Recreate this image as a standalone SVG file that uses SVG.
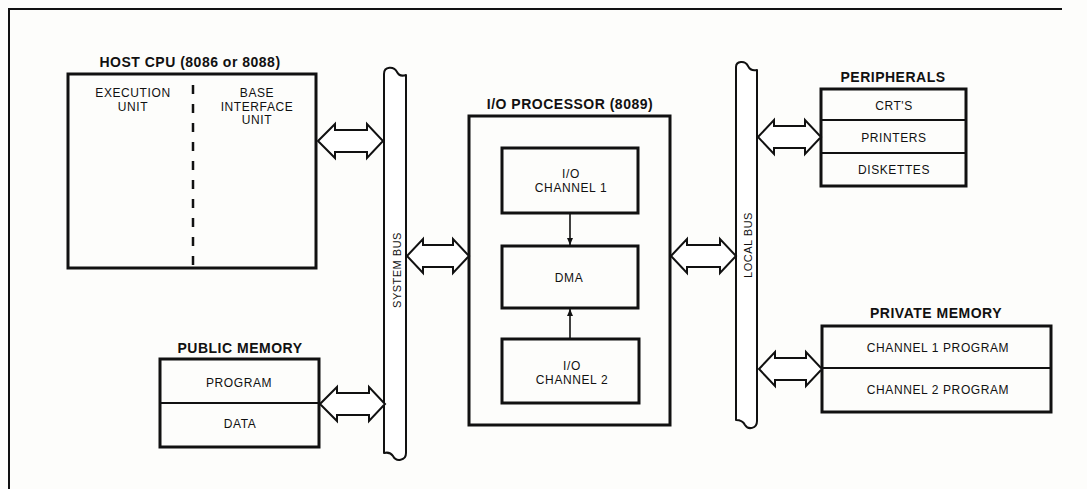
<svg xmlns="http://www.w3.org/2000/svg" width="1087" height="489" viewBox="0 0 1087 489">
<style>
.bg{fill:#fdfdfb}
.frame{fill:none;stroke:#111;stroke-width:2}
.box{fill:none;stroke:#111;stroke-width:3}
.div{stroke:#111;stroke-width:2}
.bus{fill:#fff;stroke:#111;stroke-width:2;stroke-linejoin:round}
.dbl{fill:#fff;stroke:#111;stroke-width:2;stroke-linejoin:miter}
.ln{stroke:#111;stroke-width:1.6}
.title{font-family:"Liberation Sans",Arial,sans-serif;font-weight:bold;font-size:14px;letter-spacing:0.5px;fill:#111;text-anchor:middle}
.lbl{font-family:"Liberation Sans",Arial,sans-serif;font-size:12px;letter-spacing:0.6px;fill:#111;text-anchor:middle}
.buslbl{font-family:"Liberation Sans",Arial,sans-serif;font-size:11px;letter-spacing:0.5px;fill:#111;text-anchor:middle}
</style>
<defs>
<marker id="ah" markerWidth="8" markerHeight="8" refX="7" refY="4" orient="auto" markerUnits="userSpaceOnUse">
<path d="M0,1 L7,4 L0,7 Z" fill="#111"/>
</marker>
</defs>
<rect class="bg" x="0" y="0" width="1087" height="489"/>
<path class="frame" d="M9,489 L9,9 L1062,9"/>

<g id="host-cpu">
<text class="title" x="190" y="67">HOST CPU (8086 or 8088)</text>
<rect class="box" x="68" y="74" width="248" height="194"/>
<line x1="193" y1="85" x2="193" y2="268" stroke="#111" stroke-width="2.5" stroke-dasharray="9,10"/>
<text class="lbl" x="133" y="97">EXECUTION</text>
<text class="lbl" x="133" y="111">UNIT</text>
<text class="lbl" x="257" y="97">BASE</text>
<text class="lbl" x="257" y="111">INTERFACE</text>
<text class="lbl" x="257" y="124">UNIT</text>
</g>

<g id="public-memory">
<text class="title" x="240" y="353">PUBLIC MEMORY</text>
<rect class="box" x="160" y="359" width="159" height="88"/>
<line class="div" x1="160" y1="403" x2="319" y2="403"/>
<text class="lbl" x="239" y="387">PROGRAM</text>
<text class="lbl" x="240" y="428">DATA</text>
</g>

<g id="system-bus">
<path class="bus" d="M384,453 L384,74 C384,66 394,66 397,72 C399,76 403,76 406,75 L406,453 C406,461 396,462 393,456 C391,453 388,452 384,453 Z"/>
<text class="buslbl" transform="translate(401,270) rotate(-90)">SYSTEM BUS</text>
</g>

<g id="io-processor">
<text class="title" x="570" y="109">I/O PROCESSOR (8089)</text>
<rect class="box" x="469" y="116" width="201" height="309"/>
</g>

<g id="io-channel-1">
<rect class="box" x="502" y="148" width="136" height="65"/>
<text class="lbl" x="571" y="178">I/O</text>
<text class="lbl" x="571" y="192">CHANNEL 1</text>
</g>

<g id="dma">
<rect class="box" x="502" y="246" width="136" height="62"/>
<text class="lbl" x="569" y="282">DMA</text>
</g>

<g id="io-channel-2">
<rect class="box" x="502" y="339" width="137" height="64"/>
<text class="lbl" x="572" y="370">I/O</text>
<text class="lbl" x="572" y="384">CHANNEL 2</text>
</g>

<g id="local-bus">
<path class="bus" d="M736,420 L736,67 C736,61 745,60 748,66 C750,70 753,71 757,70 L757,421 C757,429 748,430 745,425 C743,421 740,420 736,420 Z"/>
<text class="buslbl" transform="translate(752,245) rotate(-90)">LOCAL BUS</text>
</g>

<g id="peripherals">
<text class="title" x="893" y="82">PERIPHERALS</text>
<rect class="box" x="821" y="89" width="145" height="97"/>
<line class="div" x1="821" y1="120" x2="966" y2="120"/>
<line class="div" x1="821" y1="153" x2="966" y2="153"/>
<text class="lbl" x="894" y="110">CRT'S</text>
<text class="lbl" x="894" y="142">PRINTERS</text>
<text class="lbl" x="894" y="174">DISKETTES</text>
</g>

<g id="private-memory">
<text class="title" x="936" y="318">PRIVATE MEMORY</text>
<rect class="box" x="822" y="326" width="229" height="86"/>
<line class="div" x1="822" y1="368" x2="1051" y2="368"/>
<text class="lbl" x="938" y="352">CHANNEL 1 PROGRAM</text>
<text class="lbl" x="938" y="394">CHANNEL 2 PROGRAM</text>
</g>

<g id="connectors">
<path class="dbl" d="M318,141 L335,124 L335,130 L367,130 L367,124 L383,141 L367,158 L367,152 L335,152 L335,158 Z"/>
<path class="dbl" d="M320,404 L337,387 L337,393 L369,393 L369,387 L385,404 L369,421 L369,415 L337,415 L337,421 Z"/>
<path class="dbl" d="M407,256 L423,239 L423,245 L453,245 L453,239 L469,256 L453,273 L453,267 L423,267 L423,273 Z"/>
<path class="dbl" d="M671,256 L687,239 L687,245 L720,245 L720,239 L736,256 L720,273 L720,267 L687,267 L687,273 Z"/>
<path class="dbl" d="M758,137 L774,120 L774,126 L805,126 L805,120 L821,137 L805,154 L805,148 L774,148 L774,154 Z"/>
<path class="dbl" d="M759,369 L775,352 L775,358 L806,358 L806,352 L822,369 L806,386 L806,380 L775,380 L775,386 Z"/>
<line class="ln" x1="570" y1="214" x2="570" y2="245" marker-end="url(#ah)"/>
<line class="ln" x1="570" y1="338" x2="570" y2="309" marker-end="url(#ah)"/>
</g>
</svg>
